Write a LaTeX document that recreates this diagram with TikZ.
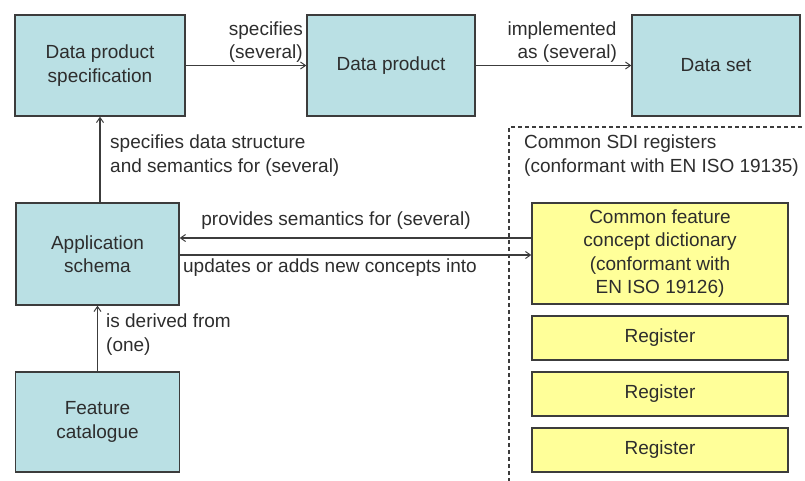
\documentclass[tikz,border=0pt]{standalone}
\usepackage{fontspec}
\setmainfont{Liberation Sans}
\usetikzlibrary{arrows.meta}

\definecolor{tealfill}{RGB}{186,224,228}
\definecolor{yellowfill}{RGB}{255,255,153}
\definecolor{edgegray}{RGB}{60,60,60}
\definecolor{inkgray}{RGB}{45,45,45}

\tikzset{
  base/.style={draw=edgegray, line width=1.4pt, inner sep=0pt, align=center,
               text=inkgray, font=\fontsize{19}{23.5}\selectfont},
  tealbox/.style={base, fill=tealfill},
  yellowbox/.style={base, fill=yellowfill},
  regbox/.style={yellowbox, minimum width=256pt, minimum height=44pt},
  lbl/.style={inner sep=0pt, text=inkgray, font=\fontsize{19}{23.5}\selectfont},
  link/.style={draw=edgegray, line width=1.1pt,
               -{Straight Barb[length=5pt,width=7pt,line width=1pt]}}
}

\begin{document}
\begin{tikzpicture}[x=1pt,y=-1pt]
  \useasboundingbox (0,0) rectangle (805,480);

  % common SDI registers frame (continues past the right and bottom edges)
  \draw[edgegray, line width=1.1pt, dash pattern=on 4pt off 3pt]
    (509,482) -- (509,127) -- (807,127);
  \node[lbl, anchor=north west, align=left] (sdi) at (524,135)
    {Common SDI registers\\(conformant with EN ISO 19135)};

  % main boxes
  \node[tealbox, minimum width=170pt, minimum height=101pt] (dps) at (100,65.5)
    {Data product\\specification};
  \node[tealbox, minimum width=168pt, minimum height=101pt] (dp) at (391,65.5)
    {Data product};
  \node[tealbox, minimum width=168pt, minimum height=101pt] (ds) at (716,65.5)
    {Data set};
  \node[tealbox, minimum width=163pt, minimum height=102pt] (app) at (97.5,254)
    {Application\\schema};
  \node[tealbox, minimum width=164pt, minimum height=100pt] (fc) at (97.5,422)
    {Feature\\catalogue};

  % register boxes
  \node[yellowbox, minimum width=256pt, minimum height=101pt] (dict) at (660,253.5)
    {\raisebox{-3pt}{\parbox{256pt}{\centering Common feature\\concept dictionary\\(conformant with\\EN ISO 19126)}}};
  \node[regbox] (reg1) at (660,338) {Register};
  \node[regbox] (reg2) at (660,394) {Register};
  \node[regbox] (reg3) at (660,450) {Register};

  % connectors
  \draw[link] (dps) -- (dp);
  \draw[link] (dp) -- (ds);
  \draw[link] (app.north -| dps.south) -- (dps.south);
  \draw[link] (fc.north -| app.south) -- (app.south);
  \draw[link] ([yshift=15.5pt]dict.west) -- ([yshift=15.5pt]dict.west -| app.east);
  \draw[link] ([yshift=-1.5pt]dict.west -| app.east) -- ([yshift=-1.5pt]dict.west);

  % connector labels
  \node[lbl, anchor=south east, align=right] (l1) at (303,63)
    {specifies\\(several)};
  \node[lbl, anchor=south, align=center] (l2) at (562,63)
    {implemented\\\ \ as (several)};
  \node[lbl, anchor=north west, align=left] (l3) at (110,135)
    {specifies data structure\\and semantics for (several)};
  \node[lbl, anchor=center] (l4) at (336,221)
    {provides semantics for (several)};
  \node[lbl, anchor=center] (l5) at (330,268)
    {updates or adds new concepts into};
  \node[lbl, anchor=north west, align=left] (l6) at (106,314)
    {is derived from\\(one)};
\end{tikzpicture}
\end{document}
